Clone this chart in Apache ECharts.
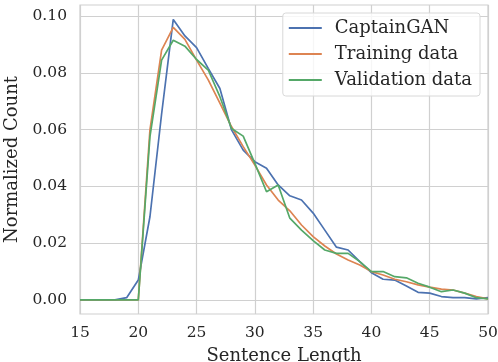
<!DOCTYPE html>
<html>
<head>
<meta charset="utf-8">
<script src="https://cdn.jsdelivr.net/npm/echarts@6/dist/echarts.min.js"></script>
<style>
  html, body { margin: 0; padding: 0; background: #fff; }
  #chart { width: 498px; height: 362px; }
</style>
</head>
<body>
<div id="chart"></div>
<script>
// sentence lengths 15..50
const lengths = [15, 16, 17, 18, 19, 20, 21, 22, 23, 24, 25, 26, 27, 28, 29, 30, 31, 32,
  33, 34, 35, 36, 37, 38, 39, 40, 41, 42, 43, 44, 45, 46, 47, 48, 49, 50];

const captainGan = [0, 0, 0, 0, 0.0008, 0.007, 0.0293, 0.0655, 0.0988, 0.093, 0.0889, 0.0816,
  0.0745, 0.0599, 0.0528, 0.0487, 0.0464, 0.0405, 0.0367, 0.0352, 0.0306, 0.0246, 0.0186,
  0.0176, 0.0135, 0.0096, 0.0073, 0.007, 0.0049, 0.0027, 0.0024, 0.0012, 0.0008, 0.0008,
  0.0004, 0.0008];

const trainingData = [0, 0, 0, 0, 0, 0, 0.0599, 0.088, 0.096, 0.0918, 0.0845, 0.0775,
  0.0693, 0.061, 0.054, 0.0475, 0.0405, 0.0352, 0.0314, 0.0264, 0.0223, 0.019, 0.0162,
  0.0141, 0.0123, 0.01, 0.0088, 0.0073, 0.0064, 0.0053, 0.0045, 0.0038, 0.0035, 0.0024,
  0.0012, 0.0004];

const validationData = [0, 0, 0, 0, 0, 0, 0.0575, 0.0845, 0.0915, 0.0894, 0.0847, 0.081,
  0.0716, 0.0604, 0.0577, 0.0481, 0.0381, 0.0405, 0.0288, 0.0246, 0.0209, 0.0176, 0.0164,
  0.0164, 0.0135, 0.01, 0.01, 0.0082, 0.0078, 0.0059, 0.0045, 0.0029, 0.0035, 0.0024,
  0.0008, 0.0004];

const yTicks = [0, 0.02, 0.04, 0.06, 0.08, 0.10];

const textColor = '#262626';
const gridColor = '#d0d0d0';
const font = 'DejaVu Serif';

const pairs = (ys) => lengths.map((x, i) => [x, ys[i]]);

const lineSeries = (name, ys, color) => ({
  name: name,
  type: 'line',
  data: pairs(ys),
  symbol: 'none',
  lineStyle: { color: color, width: 1.7 },
  itemStyle: { color: color },
});

const chart = echarts.init(document.getElementById('chart'));
chart.setOption({
  animation: false,
  textStyle: { fontFamily: font, color: textColor },
  grid: {
    left: 80,
    right: 10,
    top: 5,
    bottom: 48,
    outerBoundsMode: 'none',
    show: true,
    borderColor: gridColor,
    borderWidth: 1.2,
  },
  legend: {
    orient: 'vertical',
    right: 18,
    top: 13,
    icon: 'rect',
    itemWidth: 33,
    itemHeight: 2,
    itemGap: 8,
    padding: [6, 8, 7, 6],
    backgroundColor: 'rgba(255,255,255,0.8)',
    borderColor: '#d8d8d8',
    borderWidth: 1,
    borderRadius: 3,
    textStyle: { fontFamily: font, fontSize: 18, color: textColor, padding: [0, 0, 0, 8] },
    data: ['CaptainGAN', 'Training data', 'Validation data'],
  },
  xAxis: {
    type: 'value',
    min: 15,
    max: 50,
    interval: 5,
    name: 'Sentence Length',
    nameLocation: 'middle',
    nameGap: 33,
    nameTextStyle: { fontFamily: font, fontSize: 18, color: textColor },
    axisLine: { show: false },
    axisTick: { show: false },
    axisLabel: { fontFamily: font, fontSize: 15.5, color: textColor, margin: 11 },
    splitLine: { show: true, lineStyle: { color: gridColor, width: 1.2 } },
  },
  yAxis: {
    type: 'value',
    min: -0.00495,
    max: 0.1039,
    name: 'Normalized Count',
    nameLocation: 'middle',
    nameGap: 58,
    nameTextStyle: { fontFamily: font, fontSize: 18, color: textColor },
    axisLine: { show: false },
    axisTick: { show: false, customValues: yTicks },
    axisLabel: {
      fontFamily: font,
      fontSize: 15.5,
      color: textColor,
      margin: 13,
      customValues: yTicks,
      formatter: (v) => v.toFixed(2),
    },
    splitLine: { show: true, lineStyle: { color: gridColor, width: 1.2 } },
  },
  series: [
    lineSeries('CaptainGAN', captainGan, '#4c72b0'),
    lineSeries('Training data', trainingData, '#dd8452'),
    lineSeries('Validation data', validationData, '#55a868'),
  ],
});
</script>
</body>
</html>
